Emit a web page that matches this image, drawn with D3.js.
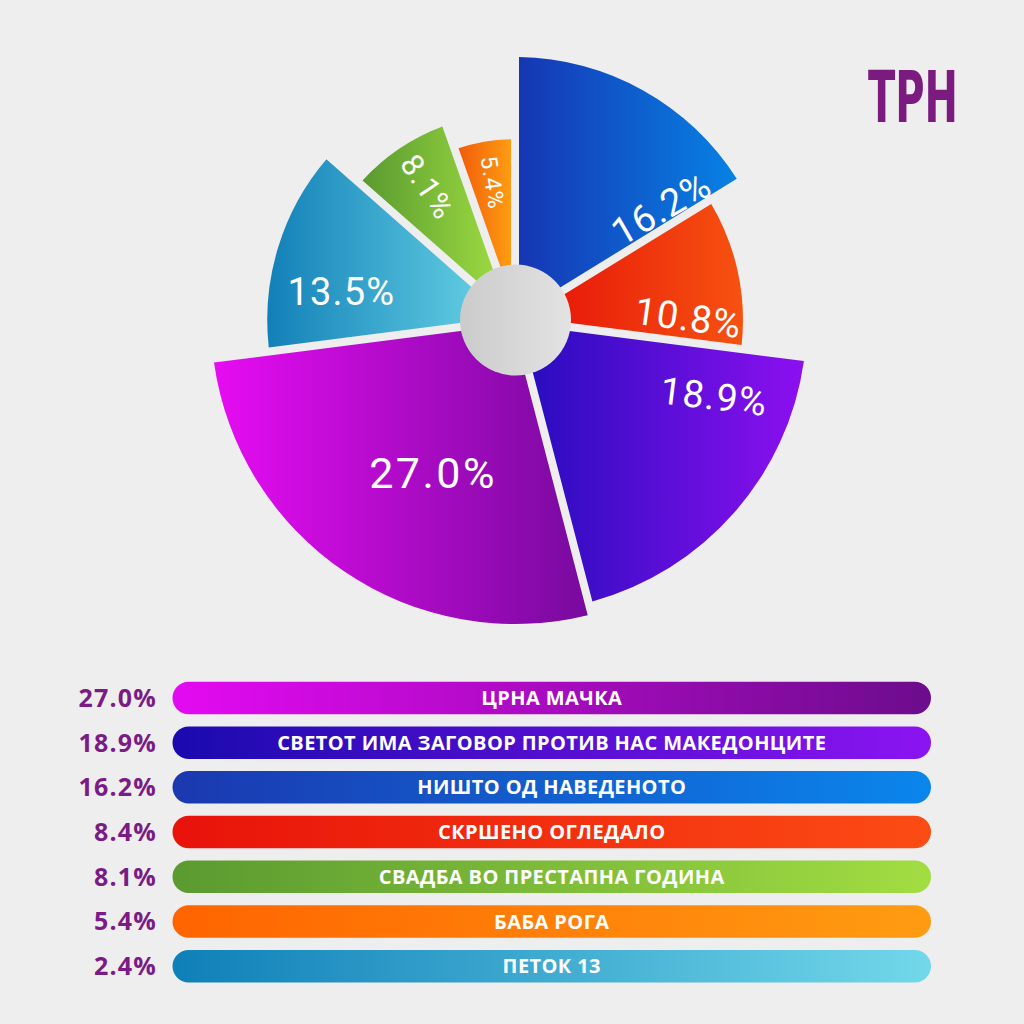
<!DOCTYPE html>
<html>
<head>
<meta charset="utf-8">
<script src="https://cdn.jsdelivr.net/npm/d3@7"></script>
<style>
  html, body { margin: 0; padding: 0; background: #eeeeee; }
  svg { display: block; }
</style>
</head>
<body>
<div id="chart"></div>
<script>
// pie slices, clockwise from 12 o'clock
var pieValues = [16.2, 10.8, 18.9, 27.0, 13.5, 8.1, 5.4];
// how far each slice reaches out, relative to the longest one
var pieReach = [0.865, 0.75, 0.96, 1.0, 0.815, 0.68, 0.595];

// legend rows
var legendCategories = [
  "ЦРНА МАЧКА",
  "СВЕТОТ ИМА ЗАГОВОР ПРОТИВ НАС МАКЕДОНЦИТЕ",
  "НИШТО ОД НАВЕДЕНОТО",
  "СКРШЕНО ОГЛЕДАЛО",
  "СВАДБА ВО ПРЕСТАПНА ГОДИНА",
  "БАБА РОГА",
  "ПЕТОК 13"
];
var legendValues = [27.0, 18.9, 16.2, 8.4, 8.1, 5.4, 2.4];

var sliceColors = [
  ["#1636b4", "#0782e4"],
  ["#e8180a", "#f65210"],
  ["#2a0cbe", "#8c10f0"],
  ["#e60cf2", "#780a9e"],
  ["#1280b8", "#62cde2"],
  ["#599a30", "#9cda40"],
  ["#f05c0a", "#ff9c12"]
];
var legendColors = [
  ["#e40af2", "#6c0c8c"],
  ["#1a0aae", "#8c14f2"],
  ["#1b38b0", "#0a86ec"],
  ["#e8120a", "#fc4c14"],
  ["#5a9a30", "#a2dd42"],
  ["#ff6400", "#ff9c12"],
  ["#0f7fb8", "#72d8ea"]
];

// label spot inside each slice: fraction along the angle, fraction of radius, rotation, size
var labelSpots = [
  {t: 0.90, k: 0.70, rot: -30, size: 38},
  {t: 0.79, k: 0.76, rot: 8,   size: 38},
  {t: 0.20, k: 0.73, rot: 7,   size: 38},
  {t: 0.44, k: 0.57, rot: 0,   size: 43},
  {t: 0.34, k: 0.71, rot: 0,   size: 38},
  {t: 0.53, k: 0.77, rot: 56,  size: 31},
  {t: 0.53, k: 0.77, rot: 81,  size: 23}
];

var W = 1024, H = 1024;
var cx = 515, cy = 320;
var fmt = function(v) { return d3.format(".1f")(v) + "%"; };

var svg = d3.select("#chart").append("svg")
    .attr("width", W)
    .attr("height", H);

svg.append("rect")
    .attr("width", W).attr("height", H)
    .attr("fill", "#eeeeee");

var defs = svg.append("defs");

function addGradient(id, pair) {
  var g = defs.append("linearGradient")
      .attr("id", id)
      .attr("x1", 0).attr("x2", 1).attr("y1", 0).attr("y2", 0);
  g.append("stop").attr("offset", "0%").attr("stop-color", pair[0]);
  g.append("stop").attr("offset", "100%").attr("stop-color", pair[1]);
}

sliceColors.forEach(function(c, i) { addGradient("slice" + i, c); });
legendColors.forEach(function(c, i) { addGradient("leg" + i, c); });
addGradient("hub", ["#cbcbcb", "#e3e3e3"]);

// ---- pie ----
var r = d3.scaleLinear().domain([0, 1]).range([0, 304]);

var pie = d3.pie()
    .sort(null)
    .startAngle(0)
    .endAngle(2 * Math.PI)
    .value(function(i) { return pieValues[i]; });

var arcs = pie(d3.range(pieValues.length));

var arc = d3.arc()
    .innerRadius(40)
    .outerRadius(function(d) { return r(pieReach[d.data]); })
    .padRadius(300)
    .padAngle(8 / 300);

var gPie = svg.append("g")
    .attr("transform", "translate(" + cx + "," + cy + ")");

gPie.selectAll("path.slice")
  .data(arcs)
  .enter().append("path")
    .attr("class", "slice")
    .attr("d", arc)
    .attr("fill", function(d) { return "url(#slice" + d.data + ")"; });

gPie.append("circle")
    .attr("r", 55.5)
    .attr("cx", 0.5)
    .attr("fill", "url(#hub)");

gPie.selectAll("text.pct")
  .data(arcs)
  .enter().append("text")
    .attr("class", "pct")
    .attr("transform", function(d) {
      var s = labelSpots[d.data];
      var a = d.startAngle + s.t * (d.endAngle - d.startAngle);
      var rr = s.k * r(pieReach[d.data]);
      return "translate(" + (rr * Math.sin(a)) + "," + (-rr * Math.cos(a)) + ") rotate(" + s.rot + ")";
    })
    .attr("text-anchor", "middle")
    .attr("dy", function(d) { return 0.355 * labelSpots[d.data].size; })
    .attr("font-family", "Roboto, 'Open Sans', sans-serif")
    .attr("font-weight", 400)
    .attr("font-size", function(d) { return labelSpots[d.data].size; })
    .attr("letter-spacing", function(d) { return d.data === 3 ? 2.5 : 1.2; })
    .attr("fill", "#ffffff")
    .text(function(d) { return fmt(pieValues[d.data]); });

// ---- legend ----
var y = d3.scaleBand()
    .domain(legendCategories)
    .range([681.7, 982.4])
    .paddingInner(0.273)
    .paddingOuter(0);

var barX0 = 172.5, barX1 = 931;

var rows = svg.append("g").selectAll("g.row")
  .data(legendCategories)
  .enter().append("g")
    .attr("class", "row");

rows.append("rect")
    .attr("x", barX0)
    .attr("y", function(d) { return y(d); })
    .attr("width", barX1 - barX0)
    .attr("height", y.bandwidth())
    .attr("rx", y.bandwidth() / 2)
    .attr("fill", function(d, i) { return "url(#leg" + i + ")"; });

rows.append("text")
    .attr("x", (barX0 + barX1) / 2)
    .attr("y", function(d) { return y(d) + y.bandwidth() / 2 + 0.357 * 20; })
    .attr("text-anchor", "middle")
    .attr("font-family", "'Open Sans', sans-serif")
    .attr("font-weight", 700)
    .attr("font-size", 20)
    .attr("letter-spacing", 0.4)
    .attr("fill", "#ffffff")
    .text(function(d) { return d; });

rows.append("text")
    .attr("x", 157)
    .attr("y", function(d) { return y(d) + y.bandwidth() / 2 + 0.357 * 25; })
    .attr("text-anchor", "end")
    .attr("font-family", "'Open Sans', sans-serif")
    .attr("font-weight", 700)
    .attr("font-size", 25)
    .attr("letter-spacing", 1.2)
    .attr("fill", "#7b1b86")
    .text(function(d, i) { return fmt(legendValues[i]); });

// ---- logo ----
svg.append("text")
    .attr("x", 868)
    .attr("y", 122)
    .attr("font-family", "'DejaVu Sans Condensed', 'DejaVu Sans', sans-serif")
    .attr("font-weight", 700)
    .attr("font-size", 71)
    .attr("textLength", 90)
    .attr("lengthAdjust", "spacingAndGlyphs")
    .attr("fill", "#7b1b7f")
    .text("ТРН");
</script>
</body>
</html>
